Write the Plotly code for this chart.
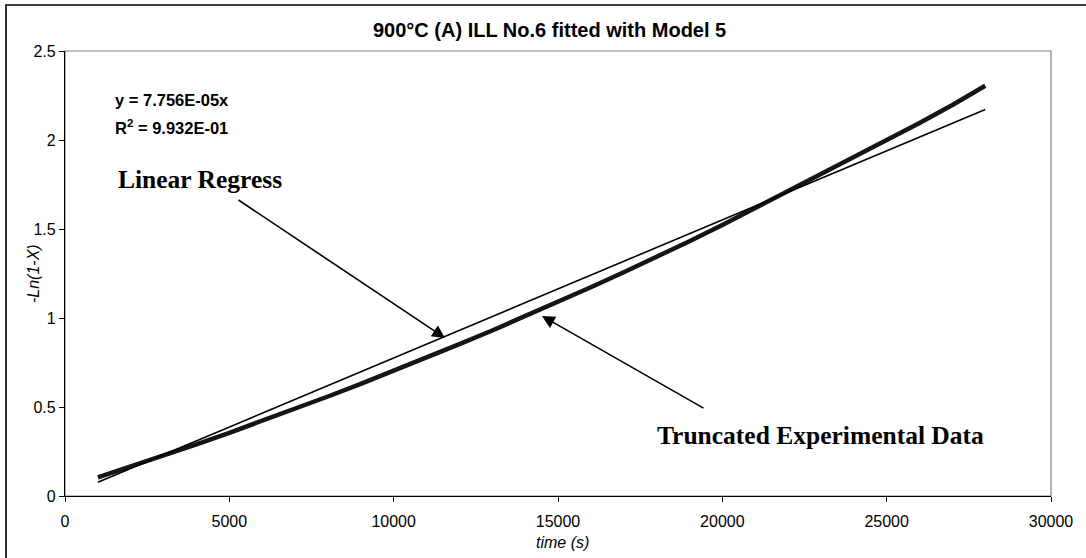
import plotly.graph_objects as go

# ---- data ----
time_s = [1000, 2000, 3000, 4000, 5000, 6000, 7000, 8000, 9000, 10000,
          11000, 12000, 13000, 14000, 15000, 16000, 17000, 18000, 19000, 20000,
          21000, 22000, 23000, 24000, 25000, 26000, 27000, 28000]
neg_ln = [0.105, 0.165, 0.226, 0.290, 0.355, 0.421, 0.490, 0.559, 0.630, 0.703,
          0.777, 0.853, 0.930, 1.010, 1.091, 1.173, 1.257, 1.343, 1.431, 1.522,
          1.618, 1.712, 1.805, 1.900, 1.996, 2.095, 2.197, 2.305]
fit_slope = 7.756e-05
fit_x = [1000, 28000]
x_ticks = [0, 5000, 10000, 15000, 20000, 25000, 30000]
y_ticks = [0, 0.5, 1, 1.5, 2, 2.5]

fit_y = [fit_slope * v for v in fit_x]

SANS = "Liberation Sans, Arial, sans-serif"
SERIF = "Liberation Serif, Times New Roman, serif"

fig = go.Figure()
fig.add_trace(go.Scatter(x=time_s, y=neg_ln, mode="lines",
                         line=dict(color="#151515", width=4.5), showlegend=False))
fig.add_trace(go.Scatter(x=fit_x, y=fit_y, mode="lines",
                         line=dict(color="black", width=1.6), showlegend=False))

L, R, T, B = 65, 35, 51, 62
W, H = 1086, 558
pw, ph = W - L - R, H - T - B


def px(xp):
    return (xp - L) / pw


def py(yp):
    return (H - B - yp) / ph


fig.update_layout(
    width=W, height=H,
    margin=dict(l=L, r=R, t=T, b=B, pad=0),
    paper_bgcolor="white", plot_bgcolor="white",
    font=dict(family=SANS, size=16, color="black"),
    xaxis=dict(range=[0, 30000], tickvals=x_ticks, ticktext=[str(v) for v in x_ticks],
               showgrid=False, zeroline=False, showline=True, linecolor="black",
               linewidth=1.3, ticks="outside", ticklen=5, tickcolor="black",
               ticklabelstandoff=6,
               tickfont=dict(family=SANS, size=16)),
    yaxis=dict(range=[0, 2.5], tickvals=y_ticks, ticktext=["0", "0.5", "1", "1.5", "2", "2.5"],
               showgrid=False, zeroline=False, showline=True, linecolor="black",
               linewidth=1.3, ticks="outside", ticklen=5, tickcolor="black",
               tickfont=dict(family=SANS, size=16)),
    shapes=[
        dict(type="rect", xref="paper", yref="paper", x0=0, y0=0, x1=1, y1=1,
             line=dict(color="#808080", width=1.2), layer="below"),
        dict(type="rect", xref="paper", yref="paper",
             x0=px(6), y0=py(566), x1=px(1095), y1=py(5),
             line=dict(color="black", width=1.6), layer="below"),
    ],
)

ann = []
ann.append(dict(text="<b>900°C (A) ILL No.6 fitted with Model 5</b>", xref="paper", yref="paper",
                x=px(549), y=py(30), showarrow=False, xanchor="center", yanchor="middle",
                font=dict(family=SANS, size=20)))
ann.append(dict(text="<i>time (s)</i>", xref="paper", yref="paper",
                x=px(562), y=py(542), showarrow=False, xanchor="center", yanchor="middle",
                font=dict(family=SANS, size=16)))
ann.append(dict(text="<i>-Ln(1-X)</i>", xref="paper", yref="paper", textangle=-90,
                x=px(33), y=py(274), showarrow=False, xanchor="center", yanchor="middle",
                font=dict(family=SANS, size=16)))
ann.append(dict(text="<b>y = 7.756E-05x</b>", xref="paper", yref="paper",
                x=px(113), y=py(100), showarrow=False, xanchor="left", yanchor="middle",
                font=dict(family=SANS, size=16.5)))
ann.append(dict(text="<b>R<sup>2</sup> = 9.932E-01</b>", xref="paper", yref="paper",
                x=px(113), y=py(127), showarrow=False, xanchor="left", yanchor="middle",
                font=dict(family=SANS, size=16.5)))
ann.append(dict(text="<b>Linear Regress</b>", xref="paper", yref="paper",
                x=px(116), y=py(180), showarrow=False, xanchor="left", yanchor="middle",
                font=dict(family=SERIF, size=25.5)))
ann.append(dict(text="<b>Truncated Experimental Data</b>", xref="paper", yref="paper",
                x=px(655), y=py(435), showarrow=False, xanchor="left", yanchor="middle",
                font=dict(family=SERIF, size=25.5)))
# arrows: head at (x,y) in paper coords, tail offset in pixels
ann.append(dict(text="", xref="paper", yref="paper", axref="pixel", ayref="pixel",
                x=px(445), y=py(338), ax=237 - 445, ay=199 - 338, showarrow=True,
                arrowhead=2, arrowsize=1.6, arrowwidth=1.6, arrowcolor="black", standoff=0))
ann.append(dict(text="", xref="paper", yref="paper", axref="pixel", ayref="pixel",
                x=px(542), y=py(316), ax=705 - 542, ay=409 - 316, showarrow=True,
                arrowhead=2, arrowsize=1.6, arrowwidth=1.6, arrowcolor="black", standoff=0))
fig.update_layout(annotations=ann)

fig.write_html("out.html")
